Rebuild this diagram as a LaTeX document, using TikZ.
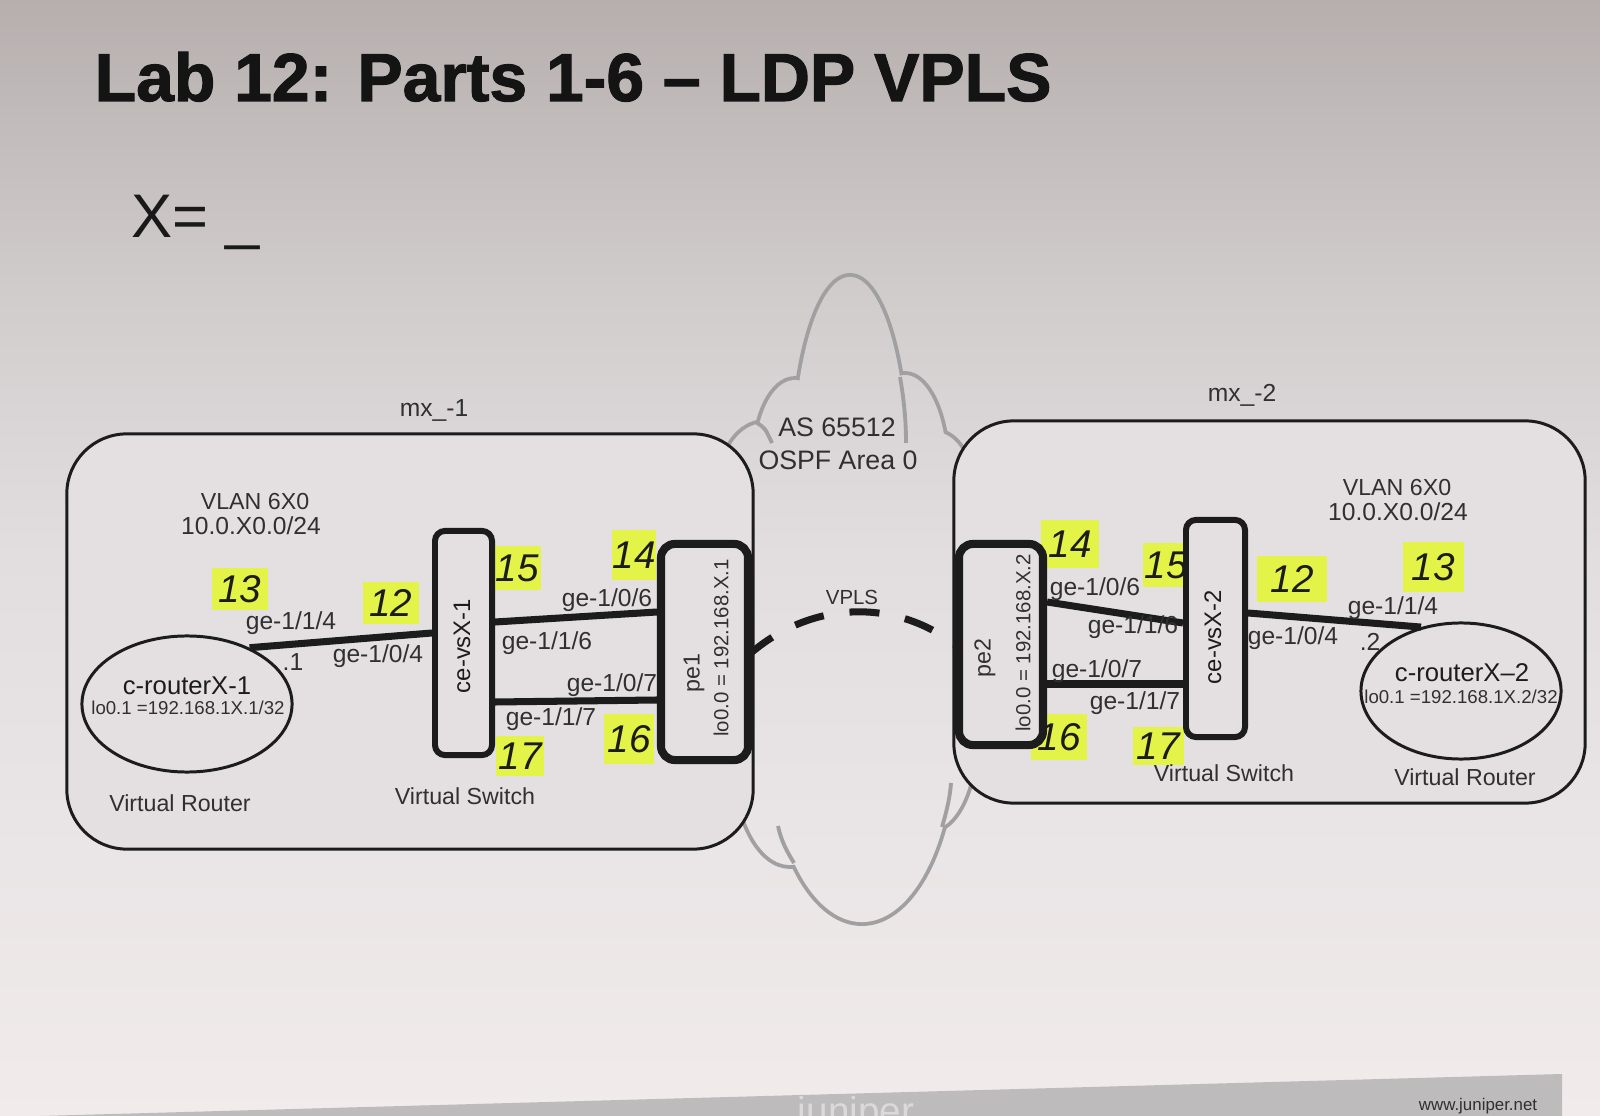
\documentclass[tikz,border=0pt]{standalone}
\usepackage{fontspec}
\usepackage{graphicx}
\setmainfont{Liberation Sans}
\newfontfamily\titlefont{Liberation Sans Bold}[FakeBold=1.6]
\usetikzlibrary{calc,shapes.geometric}
\definecolor{bgtop}{RGB}{182,175,174}
\definecolor{bgq}{RGB}{210,205,205}
\definecolor{bgmid}{RGB}{226,222,224}
\definecolor{bgbot}{RGB}{241,235,235}
\definecolor{boxfill}{RGB}{228,224,226}
\definecolor{ink}{RGB}{28,28,28}
\definecolor{txt}{RGB}{48,48,48}
\definecolor{cloudc}{RGB}{160,160,163}
\definecolor{hilite}{RGB}{228,243,72}
\definecolor{footer}{RGB}{190,187,189}
\pgfdeclareverticalshading{bgsh}{100bp}{color(0bp)=(bgbot); color(25bp)=(bgbot); color(50bp)=(bgmid); color(61.5bp)=(bgq); color(75bp)=(bgtop); color(100bp)=(bgtop)}
\newcommand\fs[1]{\fontsize{#1}{#1}\selectfont}
\newcommand\bgshade{\shade[shading=bgsh] (0,0) rectangle (1600,1116);}
\begin{document}
\begin{tikzpicture}[x=0.01cm, y=-0.01cm,
  lbl/.style={text=txt, font=\fs{7}, inner sep=0},
  mxbox/.style={draw=ink, line width=0.85pt, rounded corners=0.6cm, fill=boxfill, inner sep=0},
  vsbox/.style={draw=ink, line width=1.7pt, rounded corners=0.1cm, fill=boxfill, inner sep=0},
  pebox/.style={draw=ink, line width=2.3pt, rounded corners=0.14cm, fill=boxfill, inner sep=0},
  router/.style={ellipse, draw=ink, line width=0.85pt, inner sep=0},
  link/.style={draw=ink, line width=2pt},
  cloudline/.style={draw=cloudc, line width=2.2pt},
  stub/.style={draw=cloudc, line width=1.1pt},
  note/.style={fill=hilite, inner sep=0, font=\fs{11}\itshape, text=ink}
]
\useasboundingbox (0,0) rectangle (1600,1116);
\bgshade
\fill[footer] (40,1116) -- (1562,1074) -- (1562,1116) -- cycle;
\node[text=footer!55!white, font=\fs{11}, anchor=base] (logo) at (856,1124) {juniper};
\node[text=txt, font=\fs{4.8}] (web) at (1478,1106) {www.juniper.net};

% cloud
\draw[cloudline] (850,470) ellipse [x radius=0.57cm, y radius=1.93cm];
\draw[cloudline] (795,460) ellipse [x radius=0.40cm, y radius=0.80cm];
\draw[cloudline] (765,485) ellipse [x radius=0.45cm, y radius=0.62cm];
\draw[cloudline] (905,470) ellipse [x radius=0.42cm, y radius=0.95cm];
\draw[cloudline] (935,500) ellipse [x radius=0.40cm, y radius=0.68cm];
\draw[cloudline] (862,740) ellipse [x radius=0.92cm, y radius=1.82cm];
\draw[cloudline] (790,760) ellipse [x radius=0.55cm, y radius=1.05cm];
\draw[cloudline] (930,740) ellipse [x radius=0.45cm, y radius=0.90cm];
\begin{scope}\clip (850,470) ellipse [x radius=0.57cm, y radius=1.93cm]; \bgshade \end{scope}
\begin{scope}\clip (795,460) ellipse [x radius=0.40cm, y radius=0.80cm]; \bgshade \end{scope}
\begin{scope}\clip (765,485) ellipse [x radius=0.45cm, y radius=0.62cm]; \bgshade \end{scope}
\begin{scope}\clip (905,470) ellipse [x radius=0.42cm, y radius=0.95cm]; \bgshade \end{scope}
\begin{scope}\clip (935,500) ellipse [x radius=0.40cm, y radius=0.68cm]; \bgshade \end{scope}
\begin{scope}\clip (862,740) ellipse [x radius=0.92cm, y radius=1.82cm]; \bgshade \end{scope}
\begin{scope}\clip (790,760) ellipse [x radius=0.55cm, y radius=1.05cm]; \bgshade \end{scope}
\begin{scope}\clip (930,740) ellipse [x radius=0.45cm, y radius=0.90cm]; \bgshade \end{scope}
\begin{scope}\clip (745,470) rectangle (960,800); \bgshade \end{scope}
\draw[stub] (900,377) .. controls (904,400) and (906,420) .. (906,443);
\draw[stub] (757,423) .. controls (765,428) .. (772,443);
\draw[stub] (794,863) .. controls (786,850) and (781,840) .. (778,826);
\draw[stub] (942,827) .. controls (947,810) and (950,797) .. (951,783);

% title
\node[anchor=base west, inner sep=0, text=black!92, font=\titlefont\fs{19.3}] (title) at (94,101) {Lab 12: Parts 1-6 – LDP VPLS};
\node[anchor=base west, inner sep=0, text=black!90, font=\fs{17.5}] (xeq) at (131,238) {X= \_};

% cloud texts
\node[lbl, font=\fs{7.6}] (as) at (837,427) {AS 65512};
\node[lbl, font=\fs{7.6}] (ospf) at (838,460) {OSPF Area 0};

% device boxes
\node[lbl, font=\fs{7}] (mx1l) at (434,410) {mx\_-1};
\node[lbl, font=\fs{7}] (mx2l) at (1242,395) {mx\_-2};
\node[mxbox, minimum width=6.86cm, minimum height=4.15cm] (mx1) at (410,641.5) {};
\node[mxbox, minimum width=6.31cm, minimum height=3.82cm] (mx2) at (1269.5,612) {};

% highlighter marks
\node[note, minimum width=0.55cm, minimum height=0.42cm] (h13a) at (240,589) {13};
\node[note, minimum width=0.55cm, minimum height=0.42cm] (h12a) at (391,603) {12};
\node[note, minimum width=0.48cm, minimum height=0.43cm] (h15a) at (517,568) {15};
\node[note, minimum width=0.43cm, minimum height=0.49cm] (h14a) at (634,555) {14};
\node[note, minimum width=0.47cm, minimum height=0.39cm] (h17a) at (520,756) {17};
\node[note, minimum width=0.49cm, minimum height=0.49cm] (h16a) at (629,739) {16};
\node[note, minimum width=0.58cm, minimum height=0.47cm] (h14b) at (1070,544) {14};
\node[note, minimum width=0.46cm, minimum height=0.43cm] (h15b) at (1166,565) {15};
\node[note, minimum width=0.69cm, minimum height=0.46cm] (h12b) at (1292,579) {12};
\node[note, minimum width=0.61cm, minimum height=0.49cm] (h13b) at (1433,567) {13};
\node[note, minimum width=0.56cm, minimum height=0.46cm] (h16b) at (1059,737) {16};
\node[note, minimum width=0.51cm, minimum height=0.38cm] (h17b) at (1158,746) {17};

% left side
\node[lbl, font=\fs{6.6}] (vlan1) at (255,502) {VLAN 6X0};
\node[lbl, font=\fs{7}] (net1) at (251,526) {10.0.X0.0/24};
\node[router, minimum width=2.10cm, minimum height=1.36cm] (cr1) at (187,704) {};
\node[lbl, font=\fs{7.3}, text=ink] (cr1a) at (187,686) {c-routerX-1};
\node[lbl, font=\fs{5.3}] (cr1b) at (188,708) {lo0.1 =192.168.1X.1/32};
\node[lbl, font=\fs{6.6}] (vr1) at (180,803) {Virtual Router};
\node[vsbox, minimum width=0.57cm, minimum height=2.24cm] (vs1) at (463.5,643) {};
\node[lbl, font=\fs{6.8}, text=ink, rotate=90] (vs1t) at (462,646) {ce-vsX-1};
\node[lbl, font=\fs{6.6}] (vsw1) at (465,796) {Virtual Switch};
\node[pebox, minimum width=0.87cm, minimum height=2.16cm] (pe1) at (704.5,652) {};
\node[lbl, font=\fs{6.6}, rotate=90] (pe1a) at (694,673) {pe1};
\node[lbl, font=\fs{5.8}, rotate=90] (pe1b) at (721,648) {lo0.0 = 192.168.X.1};

% right side
\node[lbl, font=\fs{6.6}] (vlan2) at (1397,488) {VLAN 6X0};
\node[lbl, font=\fs{7}] (net2) at (1398,512) {10.0.X0.0/24};
\node[router, minimum width=2.00cm, minimum height=1.36cm] (cr2) at (1461,691) {};
\node[lbl, font=\fs{7.3}, text=ink] (cr2a) at (1462,673) {c-routerX–2};
\node[lbl, font=\fs{5.3}] (cr2b) at (1461,697) {lo0.1 =192.168.1X.2/32};
\node[lbl, font=\fs{6.6}] (vr2) at (1465,777) {Virtual Router};
\node[vsbox, minimum width=0.59cm, minimum height=2.17cm] (vs2) at (1215.5,628.5) {};
\node[lbl, font=\fs{6.8}, text=ink, rotate=90] (vs2t) at (1213,637) {ce-vsX-2};
\node[lbl, font=\fs{6.6}] (vsw2) at (1224,773) {Virtual Switch};
\node[pebox, minimum width=0.84cm, minimum height=2.01cm] (pe2) at (1001,644.5) {};
\node[lbl, font=\fs{6.6}, rotate=90] (pe2a) at (985,658) {pe2};
\node[lbl, font=\fs{5.8}, rotate=90] (pe2b) at (1023,643) {lo0.0 = 192.168.X.2};

% links
\draw[link] (cr1.42) -- ($(vs1.west)+(0,-10)$);
\draw[link] ($(vs1.east)+(0,-21)$) -- ($(pe1.west)+(0,-40)$);
\draw[link] ($(vs1.east)+(0,59)$) -- ($(pe1.west)+(0,48)$);
\draw[link] ($(pe2.east)+(0,-42.5)$) -- ($(vs2.west)+(0,-5.5)$);
\draw[link] ($(pe2.east)+(0,39.5)$) -- ($(vs2.west)+(0,55.5)$);
\draw[link] ($(vs2.east)+(0,-15.5)$) -- (cr2.122);
\draw[link, dash pattern=on 0.3cm off 0.26cm, dash phase=0.05cm] (pe1.east) .. controls +(62,-52) and +(-59,-45) .. (pe2.west);
\node[lbl, font=\fs{5.8}] (vpls) at (852,597) {VPLS};

% interface labels
\node[lbl] (l1) at (291,623) {ge-1/1/4};
\node[lbl] (l2) at (293,662) {.1};
\node[lbl] (l3) at (378,656) {ge-1/0/4};
\node[lbl] (l4) at (607,600) {ge-1/0/6};
\node[lbl] (l5) at (547,643) {ge-1/1/6};
\node[lbl] (l6) at (612,685) {ge-1/0/7};
\node[lbl] (l7) at (551,719) {ge-1/1/7};
\node[lbl] (r1) at (1095,589) {ge-1/0/6};
\node[lbl] (r2) at (1133,627) {ge-1/1/6};
\node[lbl] (r3) at (1097,671) {ge-1/0/7};
\node[lbl] (r4) at (1135,703) {ge-1/1/7};
\node[lbl] (r5) at (1393,608) {ge-1/1/4};
\node[lbl] (r6) at (1293,638) {ge-1/0/4};
\node[lbl] (r7) at (1370,642) {.2};
\end{tikzpicture}
\end{document}
